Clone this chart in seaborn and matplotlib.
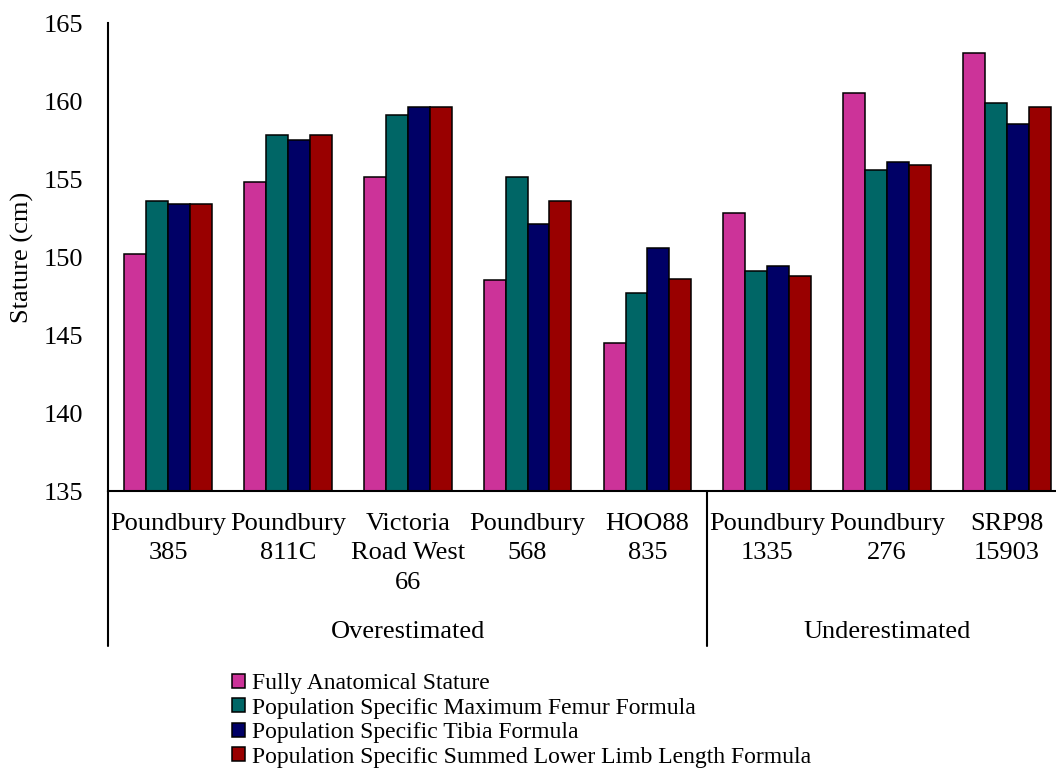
import matplotlib
matplotlib.use("Agg")
import matplotlib.pyplot as plt
import seaborn as sns
import pandas as pd
from matplotlib import transforms

specimens = ["Poundbury\n385", "Poundbury\n811C", "Victoria\nRoad West\n66", "Poundbury\n568",
             "HOO88\n835", "Poundbury\n1335", "Poundbury\n276", "SRP98\n15903"]
groups = ["Overestimated", "Underestimated"]
methods = ["Fully Anatomical Stature",
           "Population Specific Maximum Femur Formula",
           "Population Specific Tibia Formula",
           "Population Specific Summed Lower Limb Length Formula"]
fully_anatomical = [150.2, 154.8, 155.1, 148.5, 144.5, 152.8, 160.5, 163.1]
femur_formula = [153.6, 157.8, 159.1, 155.1, 147.7, 149.1, 155.6, 159.9]
tibia_formula = [153.4, 157.5, 159.6, 152.1, 150.6, 149.4, 156.1, 158.5]
summed_formula = [153.4, 157.8, 159.6, 153.6, 148.6, 148.8, 155.9, 159.6]
colors = ["#CC3399", "#006666", "#000066", "#990000"]

series = [fully_anatomical, femur_formula, tibia_formula, summed_formula]
rows = []
for m, vals in zip(methods, series):
    for s, v in zip(specimens, vals):
        rows.append({"specimen": s, "method": m, "stature": v})
df = pd.DataFrame(rows)

sns.set_style("white")
plt.rcParams["font.family"] = ["Liberation Serif", "DejaVu Serif"]
plt.rcParams["text.color"] = "black"
plt.rcParams["xtick.color"] = "black"
plt.rcParams["ytick.color"] = "black"

W, H = 1056, 774
fig = plt.figure(figsize=(W / 100, H / 100), dpi=100)
ax_left, ax_right, ax_top, ax_bottom = 108, 1067, 23, 491
ax = fig.add_axes([ax_left / W, 1 - ax_bottom / H, (ax_right - ax_left) / W, (ax_bottom - ax_top) / H])

sns.barplot(data=df, x="specimen", y="stature", hue="method", order=specimens, hue_order=methods,
            palette=colors, width=0.731, edgecolor="black", linewidth=1.1, saturation=1,
            ax=ax, legend=True)

ax.set_ylim(135, 165)
ax.set_yticks([135, 140, 145, 150, 155, 160, 165])
ax.set_xlim(-0.5, len(specimens) - 0.5)
ax.set_xlabel("")
ax.set_ylabel("")
for side in ["top", "right"]:
    ax.spines[side].set_visible(False)
for side in ["left", "bottom"]:
    ax.spines[side].set_color("black")
    ax.spines[side].set_linewidth(1.5)
ax.tick_params(axis="y", length=0, pad=18, labelsize=19, labelcolor="black")
ax.tick_params(axis="x", length=0, pad=16, labelsize=19, labelcolor="black")
for lbl in ax.get_xticklabels():
    lbl.set_linespacing(1.42)
    lbl.set_multialignment("center")

fig.text(22 / W, 1 - 257 / H, "Stature (cm)", rotation=90, ha="center", va="center",
         fontsize=19, color="black")

# group separators and group labels
trans = transforms.blended_transform_factory(ax.transData, ax.transAxes)
sep_bottom = (ax_bottom - 646) / (ax_bottom - ax_top)
for xs in [-0.5, 4.5, 7.5]:
    ax.plot([xs, xs], [0, sep_bottom], color="black", lw=1.5, transform=trans, clip_on=False)
label_y = (ax_bottom - 632) / (ax_bottom - ax_top)
ax.text(2.0, label_y, groups[0], ha="center", va="center", fontsize=19, color="black", transform=trans)
ax.text(6.0, label_y, groups[1], ha="center", va="center", fontsize=19, color="black", transform=trans)

handles, labels = ax.get_legend_handles_labels()
ax.legend_.remove()
leg = fig.legend(handles, labels, loc="upper left", bbox_to_anchor=(232 / W, 1 - 673 / H),
                 bbox_transform=fig.transFigure, frameon=False, fontsize=17,
                 handlelength=0.55, handleheight=0.55, handletextpad=0.3,
                 labelspacing=0.15, borderpad=0, borderaxespad=0)
for t in leg.get_texts():
    t.set_color("black")

fig.savefig("out.png", dpi=100)
